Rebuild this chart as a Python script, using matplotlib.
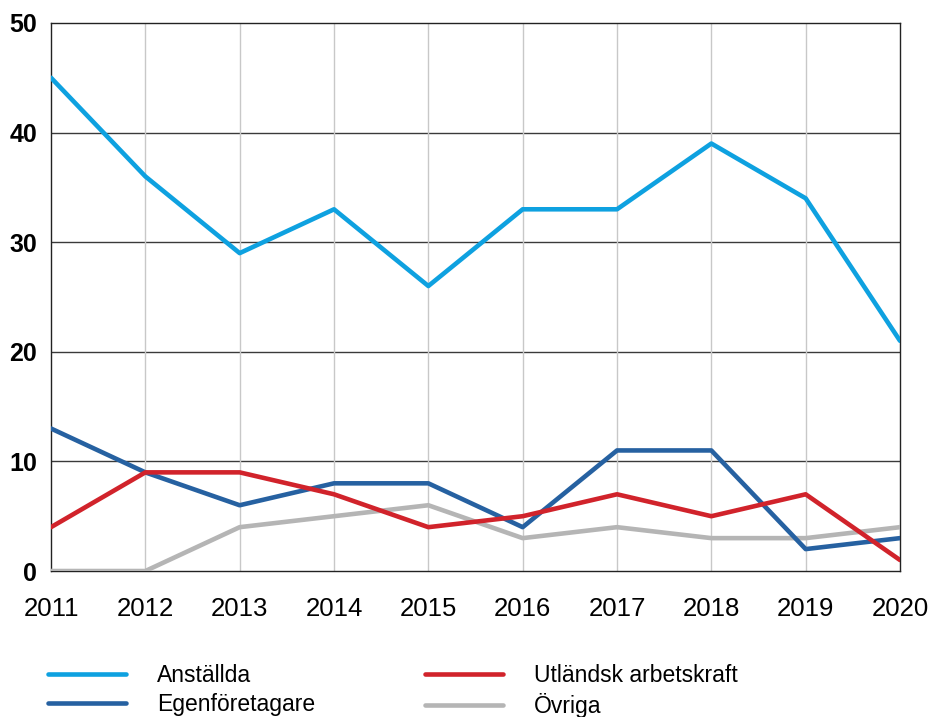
import matplotlib.pyplot as plt
from matplotlib.lines import Line2D

years = [2011, 2012, 2013, 2014, 2015, 2016, 2017, 2018, 2019, 2020]
anstallda = [45, 36, 29, 33, 26, 33, 33, 39, 34, 21]
egenforetagare = [13, 9, 6, 8, 8, 4, 11, 11, 2, 3]
utlandsk = [4, 9, 9, 7, 4, 5, 7, 5, 7, 1]
ovriga = [0, 0, 4, 5, 6, 3, 4, 3, 3, 4]

c_anst = '#0ea1e0'
c_egen = '#2661a1'
c_utl = '#d1232b'
c_ovr = '#b5b5b5'

plt.rcParams['font.family'] = ['Liberation Sans', 'DejaVu Sans']

fig = plt.figure(figsize=(9.29, 7.17), dpi=100)
ax = fig.add_axes([0.0549, 0.2036, 0.9139, 0.7644])

for y in [10, 20, 30, 40]:
    ax.axhline(y, color='#3a3a3a', lw=1.0, zorder=1)
for x in years[1:-1]:
    ax.axvline(x, color='#c8c8c8', lw=1.0, zorder=1)

lw = 3.3
ax.plot(years, ovriga, color=c_ovr, lw=lw, zorder=3, solid_capstyle='round')
ax.plot(years, egenforetagare, color=c_egen, lw=lw, zorder=4, solid_capstyle='round')
ax.plot(years, utlandsk, color=c_utl, lw=lw, zorder=5, solid_capstyle='round')
ax.plot(years, anstallda, color=c_anst, lw=lw, zorder=6, solid_capstyle='round')

ax.set_xlim(2011, 2020)
ax.set_ylim(0, 50)
ax.set_xticks(years)
ax.set_yticks([0, 10, 20, 30, 40, 50])
ax.tick_params(length=0)
ax.tick_params(axis='x', labelsize=18.5, pad=19)
ax.tick_params(axis='y', pad=10)
for lab in ax.get_yticklabels():
    lab.set_fontweight('bold')
    lab.set_fontsize(18)
for s in ax.spines.values():
    s.set_color('#222222')
    s.set_linewidth(1.0)

handles = [
    Line2D([], [], color=c_anst, lw=lw, solid_capstyle='round'),
    Line2D([], [], color=c_egen, lw=lw, solid_capstyle='round'),
    Line2D([], [], color=c_utl, lw=lw, solid_capstyle='round'),
    Line2D([], [], color=c_ovr, lw=lw, solid_capstyle='round'),
]
labels = ['Anställda', 'Egenföretagare', 'Utländsk arbetskraft', 'Övriga']
fig.legend(handles, labels, ncol=2, loc='upper left', bbox_to_anchor=(0.0517, 0.074),
           frameon=False, borderpad=0, borderaxespad=0,
           handlelength=3.4, handletextpad=1.35, columnspacing=4.8,
           labelspacing=0.25, prop={'size': 16.5})

fig.savefig('out.png', dpi=100)
